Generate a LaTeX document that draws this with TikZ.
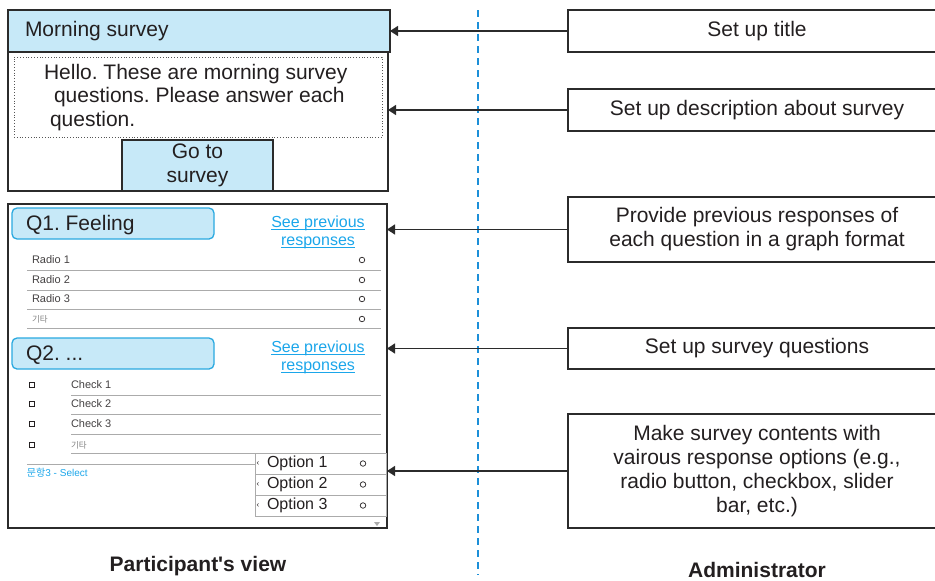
\documentclass[tikz,border=0pt]{standalone}
\usepackage{fontspec}
\setmainfont{Liberation Sans}
\newfontfamily\krfont{Noto Sans CJK KR}
\usetikzlibrary{arrows.meta}
\definecolor{lblue}{HTML}{C7E9F8}
\definecolor{qborder}{HTML}{2AA9E0}
\definecolor{linkc}{HTML}{1BA6EA}
\definecolor{dline}{HTML}{2B2B2B}
\definecolor{txt}{HTML}{231F20}
\definecolor{gline}{HTML}{ABABAB}
\definecolor{vline}{HTML}{1C8FD8}
\newcommand\linkul[1]{\underline{\smash{#1}\vphantom{a}}}
\frenchspacing
\begin{document}
\begin{tikzpicture}[x=1pt,y=-1pt,
  every node/.style={inner sep=0pt, outer sep=0pt},
  frame/.style={draw=dline, line width=1.2pt},
  bluebox/.style={frame, fill=lblue},
  qbox/.style={draw=qborder, fill=lblue, line width=1.3pt, rounded corners=5pt},
  big/.style={font=\fontsize{21}{24}\selectfont, text=txt},
  linktext/.style={font=\fontsize{16}{18}\selectfont, text=linkc, align=center},
  rowtext/.style={font=\fontsize{11}{13}\selectfont, text=txt!85, anchor=west},
  ktext/.style={font=\krfont\fontsize{8.5}{10}\selectfont, text=gray, anchor=west},
  sepline/.style={draw=gline, line width=0.8pt},
  radiobtn/.style={circle, draw=txt, line width=0.7pt, minimum size=5.5pt},
  chkbox/.style={rectangle, draw=txt, line width=0.7pt, minimum size=5pt},
  optext/.style={font=\fontsize{16}{18}\selectfont, text=txt, anchor=west},
  adminbox/.style={frame, minimum width=378pt, align=center, big},
  arr/.style={draw=dline, line width=1.4pt, -{Triangle[length=8pt,width=10pt]}},
  caption/.style={font=\bfseries\fontsize{21}{24}\selectfont, text=txt},
]
\useasboundingbox (0,0) rectangle (935,581);

% ---------- Panel 1 ----------
\node[frame, anchor=north west, minimum width=380pt, minimum height=139pt] (p1) at (8,52) {};
\node[bluebox, anchor=north west, minimum width=382pt, minimum height=42pt] (title) at (8,10) {};
\node[big, anchor=west] (titletxt) at (25,31) {Morning survey};
\node[draw=dline!80, dotted, line width=0.8pt, anchor=north west, minimum width=368pt, minimum height=80pt] (desc) at (14,57) {};
\node[big, align=left, anchor=west, font=\fontsize{21}{23.5}\selectfont] (desctxt) at (44,97.5)
  {Hello. These are morning survey\\\hspace*{10pt}questions. Please answer each\\\hspace*{6pt}question.};
\node[bluebox, anchor=north west, minimum width=151pt, minimum height=51pt, align=center, big] (go) at (122,140) {Go to\\survey};

% ---------- Panel 2 ----------
\node[frame, anchor=north west, minimum width=379pt, minimum height=324pt] (p2) at (8,204) {};

% Q1
\node[qbox, anchor=north west, minimum width=202pt, minimum height=31pt] (q1) at (12,208) {};
\node[big, anchor=west] (q1t) at (26,225) {Q1. Feeling};
\node[linktext] (l1) at (318,233) {\linkul{See previous}\\\linkul{responses}};
\foreach \i/\t/\y in {1/Radio 1/260, 2/Radio 2/280, 3/Radio 3/299} {
  \node[rowtext] (r\i) at (32,\y) {\t};
  \node[radiobtn] (rc\i) at (362,\y) {};
  \draw[sepline] (27,\y+10) -- (381,\y+10);
}
\node[ktext] (r4) at (32,319) {기타};
\node[radiobtn] (rc4) at (362,319) {};
\draw[sepline] (27,328) -- (381,328);

% Q2
\node[qbox, anchor=north west, minimum width=202pt, minimum height=31pt] (q2) at (12,338) {};
\node[big, anchor=west] (q2t) at (26,355) {Q2. ...};
\node[linktext] (l2) at (318,358) {\linkul{See previous}\\\linkul{responses}};
\foreach \i/\t/\y in {1/Check 1/385, 2/Check 2/404, 3/Check 3/424} {
  \node[chkbox] (cb\i) at (32,\y) {};
  \node[rowtext] (c\i) at (71,\y) {\t};
  \draw[sepline] (71,\y+10) -- (381,\y+10);
}
\node[chkbox] (cb4) at (32,445) {};
\node[ktext] (c4) at (71,445) {기타};
\draw[sepline] (71,453) -- (255,453);
\draw[sepline] (27,464) -- (255,464);
\node[anchor=west, text=linkc, font=\fontsize{10}{12}\selectfont] (sel) at (27,473) {{\krfont 문항}3 - Select};

% select options
\node[draw=gline, line width=0.8pt, anchor=north west, minimum width=131pt, minimum height=63pt] (opt) at (255,453) {};
\draw[sepline] (255,474) -- (386,474);
\draw[sepline] (255,495) -- (386,495);
\foreach \i/\y in {1/463.5, 2/484.5, 3/505.5} {
  \node[font=\fontsize{8}{9}\selectfont, text=txt] (ok\i) at (258,\y) {‹};
  \node[optext] (o\i) at (267,\y) {Option \i};
  \node[radiobtn] (oc\i) at (363,\y) {};
}
\fill[gline] (374,522) -- (380,522) -- (377,526) -- cycle;

% ---------- divider ----------
\draw[vline, line width=1.2pt, dash pattern=on 7pt off 5pt] (478,10) -- (478,575);

% ---------- Administrator boxes ----------
\node[adminbox, minimum height=42pt] (a1) at (757,31) {Set up title};
\node[adminbox, minimum height=42pt] (a2) at (757,110) {Set up description about survey};
\node[adminbox, minimum height=65pt] (a3) at (757,229.5) {Provide previous responses of\\each question in a graph format};
\node[adminbox, minimum height=41pt] (a4) at (757,348.5) {Set up survey questions};
\node[adminbox, minimum height=114pt] (a5) at (757,471) {Make survey contents with\\vairous response options (e.g.,\\radio button, checkbox, slider\\bar, etc.)};

\draw[arr] (a1.west) -- (a1.west -| title.east);
\draw[arr] (a2.west) -- (a2.west -| p1.east);
\draw[arr] (a3.west) -- (a3.west -| p2.east);
\draw[arr] (a4.west) -- (a4.west -| p2.east);
\draw[arr] (a5.west) -- (a5.west -| p2.east);

% ---------- captions ----------
\node[caption] (pv) at (198,566) {Participant\textquotesingle s view};
\node[caption] (ad) at (757,570) {Administrator};
\end{tikzpicture}
\end{document}
